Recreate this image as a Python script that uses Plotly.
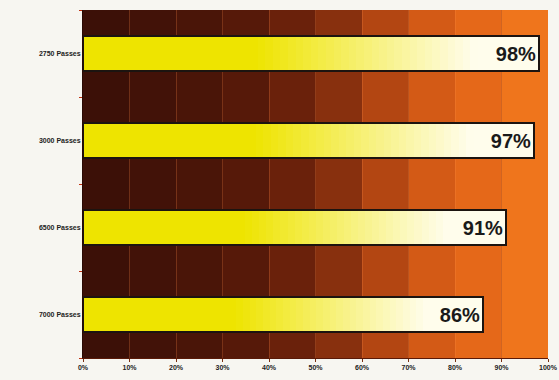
import plotly.graph_objects as go

categories = ["2750 Passes", "3000 Passes", "6500 Passes", "7000 Passes"]
values = [0.98, 0.97, 0.91, 0.86]
value_labels = ["98%", "97%", "91%", "86%"]
tick_vals = [0, 0.1, 0.2, 0.3, 0.4, 0.5, 0.6, 0.7, 0.8, 0.9, 1.0]
tick_text = ["0%", "10%", "20%", "30%", "40%", "50%", "60%", "70%", "80%", "90%", "100%"]

# background band colours (dark brown -> orange), one per 10% step
band_colors = ["#3c1007", "#421208", "#4a1508", "#561909", "#6a210b",
               "#88300e", "#b34612", "#d35a16", "#e56819", "#ef751c"]


def lerp(c1, c2, t):
    return tuple(int(round(a + (b - a) * t)) for a, b in zip(c1, c2))


def seg_color(t):
    yellow = (238, 228, 0)
    white = (255, 253, 236)
    if t < 0.38:
        c = yellow
    elif t > 0.86:
        c = white
    else:
        c = lerp(yellow, white, (t - 0.38) / 0.48)
    return "rgb(%d,%d,%d)" % c


fig = go.Figure()

N = 60
for k in range(N):
    t = (k + 0.5) / N
    fig.add_trace(go.Bar(
        y=categories,
        x=[v / N * 1.02 for v in values],
        base=[v * k / N for v in values],
        orientation="h",
        width=0.4,
        marker=dict(color=seg_color(t), line=dict(width=0)),
        showlegend=False,
        hoverinfo="skip",
    ))

fig.add_trace(go.Bar(
    y=categories,
    x=values,
    base=[0] * len(values),
    orientation="h",
    width=0.4,
    marker=dict(color="rgba(0,0,0,0)", line=dict(color="#1c1410", width=2)),
    text=value_labels,
    textposition="inside",
    insidetextanchor="end",
    textangle=0,
    constraintext="none",
    textfont=dict(family="Liberation Sans", size=20, color="#1a1a1a", weight="bold"),
    showlegend=False,
    hoverinfo="skip",
))

for i, c in enumerate(band_colors):
    fig.add_shape(type="rect", xref="x", yref="paper",
                  x0=tick_vals[i], x1=tick_vals[i + 1], y0=0, y1=1,
                  fillcolor=c, line=dict(width=0), layer="below")

fig.update_layout(
    width=559, height=380,
    margin=dict(l=83, r=11, t=10, b=22, autoexpand=False),
    paper_bgcolor="#f7f6f1",
    plot_bgcolor="#3a0f06",
    barmode="overlay",
    bargap=0,
    xaxis=dict(
        range=[0, 1.0],
        tickvals=tick_vals,
        ticktext=tick_text,
        showgrid=True,
        gridcolor="rgba(255,140,70,0.25)",
        gridwidth=1,
        zeroline=False,
        ticks="outside", ticklen=3, tickcolor="#7a3010",
        tickfont=dict(family="Liberation Sans", size=7, color="#222", weight="bold"),
        showline=True, linecolor="#5a1a08", linewidth=1,
    ),
    yaxis=dict(
        categoryorder="array",
        categoryarray=categories[::-1],
        range=[-0.5, 3.5],
        showgrid=False,
        zeroline=False,
        ticks="outside", ticklen=3, tickcolor="#c03010",
        tickson="boundaries",
        tickfont=dict(family="Liberation Sans", size=7, color="#222", weight="bold"),
        showline=True, linecolor="#2a0a04", linewidth=1,
    ),
)

fig.write_html("out.html")
